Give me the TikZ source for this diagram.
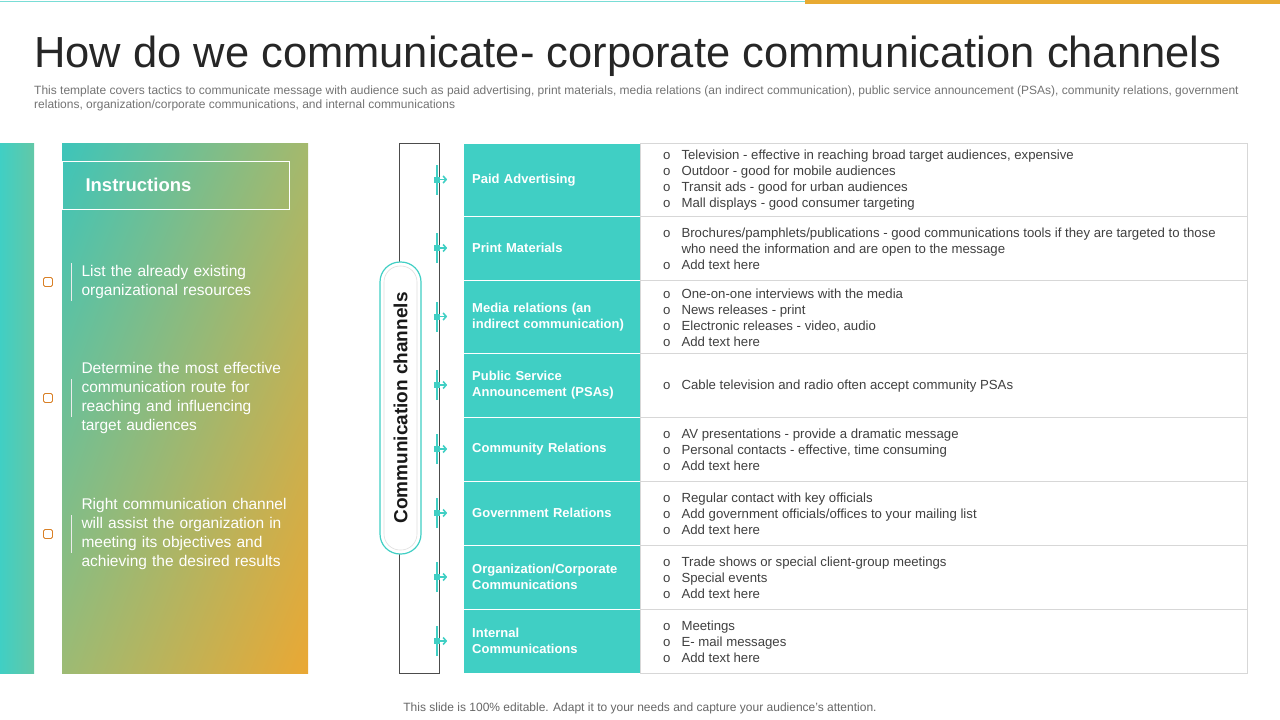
\documentclass[tikz,border=0pt]{standalone}
\usepackage{fontspec}
\setmainfont{Liberation Sans}
\usetikzlibrary{arrows.meta,positioning,shapes.geometric,shadings}
\definecolor{tealc}{RGB}{64,207,196}
\definecolor{goldc}{RGB}{232,170,50}
\definecolor{oranc}{RGB}{234,168,52}
\definecolor{greyl}{RGB}{215,215,215}
\definecolor{textc}{RGB}{64,64,64}
\tikzset{
  chan/.style={draw=white, fill=tealc, text=white, font=\fontsize{13}{16}\selectfont\bfseries, align=left, text width=159pt, inner sep=9pt, anchor=north west},
  detail/.style={draw=greyl, fill=white, text=textc, align=left, anchor=north west, minimum width=607pt},
  instr/.style={text=white, font=\fontsize{15.5}{19}\selectfont, align=left, text width=225pt, anchor=west},
  tickbox/.style={draw=brown!60!orange, line width=0.8pt, fill=white, minimum size=9pt, inner sep=0pt, rounded corners=1.5pt},
  marker/.style={fill=tealc, minimum size=6pt, inner sep=0pt}
}
\newcommand{\bl}{o\hspace{11pt}}
\begin{document}
\begin{tikzpicture}[x=1pt, y=-1pt]
  \useasboundingbox (0,0) rectangle (1280,720);
  % top bars
  \draw[tealc!70, line width=1pt] (0,1) -- (805,1);
  \fill[goldc] (805,0) rectangle (1280,4);

  % title
  \node[anchor=base west, font=\fontsize{43.5}{48}\selectfont, text=black!85, inner sep=0pt] (title) at (34,67) {How do we communicate- corporate communication channels};
  \node[anchor=north west, font=\fontsize{12}{14}\selectfont, text=black!55, align=left, inner sep=0pt] (intro) at (34,86) {This template covers tactics to communicate message with audience such as paid advertising, print materials, media relations (an indirect communication), public service announcement (PSAs), community relations, government\\relations, organization/corporate communications, and internal communications};

  % left panel
  \shade[left color=tealc, right color=tealc!80!goldc] (0,143) rectangle (34,673);
  \shade[upper left=tealc!95!black, upper right=tealc!40!goldc, lower left=tealc!45!goldc, lower right=oranc] (62,143) rectangle (308,673);
  \node[draw=white, minimum width=227pt, minimum height=48pt, anchor=north west] (instrbox) at (62,161) {};
  \node[anchor=west, text=white, font=\fontsize{18.5}{21}\selectfont\bfseries] (instrtitle) at (82,185) {Instructions};
  \foreach \n/\y/\t/\h in {a/282/{List the already existing\\organizational resources}/38,
                           b/398/{Determine the most effective\\communication route for\\reaching and influencing\\target audiences}/38,
                           c/534/{Right communication channel\\will assist the organization in\\meeting its objectives and\\achieving the desired results}/38}{
    \node[tickbox] (box\n) at (48,\y) {};
    \draw[white!85!gray] (71,\y-\h/2) -- (71,\y+\h/2);
    \node[instr] (step\n) at (78,\y) {\t};
  }

  % bracket and pill
  \draw[black!70] (399,143) rectangle (439,673);
  \node[draw=tealc, line width=1.2pt, fill=white, rounded corners=20pt, minimum width=41pt, minimum height=292pt] (pill) at (400.5,408) {};
  \node[draw=gray!25, rounded corners=16pt, minimum width=33pt, minimum height=284pt, line width=0.6pt] (pillin) at (pill) {};
  \node[rotate=90, font=\fontsize{19}{21}\selectfont\bfseries, text=black!90] (pilltext) at (pill) {Communication channels};

  % rows
  \foreach \n/\ya/\yb/\name/\items in {
     1/143/216/{Paid Advertising}/{\bl Television  - effective  in reaching broad target audiences, expensive\\\bl Outdoor - good for mobile audiences\\\bl Transit ads - good for urban audiences\\\bl Mall displays - good consumer targeting},
     2/216/280/{Print Materials}/{\bl Brochures/pamphlets/publications  - good communications tools if they are targeted to those\\\phantom{\bl}who need the information and are open to the message\\\bl Add text here},
     3/280/353/{Media relations (an\\indirect communication)}/{\bl One-on-one  interviews  with the media\\\bl News releases - print\\\bl Electronic releases - video,  audio\\\bl Add text here},
     4/353/417/{Public Service\\Announcement (PSAs)}/{\bl Cable television  and radio often accept community PSAs},
     5/417/481/{Community Relations}/{\bl AV presentations  - provide  a dramatic message\\\bl Personal contacts - effective,  time consuming\\\bl Add text here},
     6/481/545/{Government Relations}/{\bl Regular  contact with key officials\\\bl Add government  officials/offices  to your mailing list\\\bl Add text here},
     7/545/609/{Organization/Corporate\\Communications}/{\bl Trade shows or special client-group meetings\\\bl Special events\\\bl Add text here},
     8/609/673/{Internal\\Communications}/{\bl Meetings\\\bl E- mail messages\\\bl Add text here}}{
    \node[chan, minimum height=\yb-\ya] (name\n) at (463,\ya) {\name};
    \node[detail, minimum height=\yb-\ya] (items\n) at (640,\ya) {};
    \node[anchor=west, text=textc, font=\fontsize{13.2}{16}\selectfont, align=left, inner sep=0pt] (text\n) at (663,{(\ya+\yb)/2+1}) {\items};
    \coordinate (mk\n) at (437,{(\ya+\yb)/2});
    \draw[tealc, line width=1.6pt] ([yshift=-15pt]mk\n) -- ([yshift=15pt]mk\n);
    \node[marker] (sq\n) at (mk\n) {};
    \draw[tealc, line width=1.6pt, -{Straight Barb[length=3pt,width=7pt]}] (sq\n.east) -- ++(7,0);
  }

  % footer
  \node[font=\fontsize{12}{14}\selectfont, text=black!60] (footer) at (640,708) {This slide is 100\% editable. Adapt it to your needs and capture your audience's attention.};
\end{tikzpicture}
\end{document}
